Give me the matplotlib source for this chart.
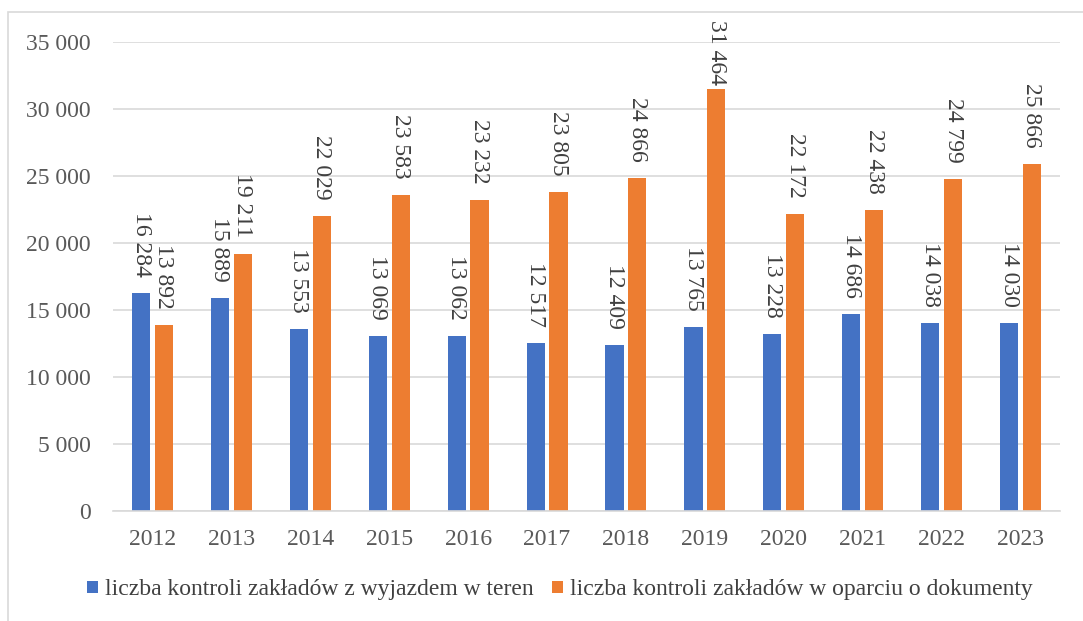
import numpy as np
import matplotlib.pyplot as plt
from matplotlib.patches import Rectangle

lata = ['2012', '2013', '2014', '2015', '2016', '2017', '2018', '2019', '2020', '2021', '2022', '2023']
w_teren = [16284, 15889, 13553, 13069, 13062, 12517, 12409, 13765, 13228, 14686, 14038, 14030]
dokumenty = [13892, 19211, 22029, 23583, 23232, 23805, 24866, 31464, 22172, 22438, 24799, 25866]
etykiety = ['liczba kontroli zakładów z wyjazdem w teren',
            'liczba kontroli zakładów w oparciu o dokumenty']

plt.rcParams['font.family'] = ['Liberation Serif', 'DejaVu Serif']

W, H = 1083, 621
fig = plt.figure(figsize=(W / 100, H / 100), dpi=100)
# ramka wykresu
fig.patches.append(Rectangle((8 / W, -0.1), 1.1, 1 - 12 / H + 0.1, transform=fig.transFigure,
                             fill=False, edgecolor='#d9d9d9', linewidth=1.2))
ax = fig.add_axes([113 / W, 1 - 511 / H, 947 / W, 469 / H])

x = np.arange(len(lata))
szer = 0.23
b1 = ax.bar(x - 0.145, w_teren, szer, color='#4472c4', label=etykiety[0])
b2 = ax.bar(x + 0.145, dokumenty, szer, color='#ed7d31', label=etykiety[1])

ax.set_xlim(-0.5, len(lata) - 0.5)
ax.set_ylim(0, 35000)


def fmt(v):
    return f'{v:,}'.replace(',', ' ')


# etykiety zaczynają się ok. 81 px nad słupkiem (jak w Excelu), ale nie wychodzą poza ramkę
for bars in (b1, b2):
    for b in bars:
        h = b.get_height()
        top_px = ax.transData.transform((0, h))[1]  # od dołu figury
        off_px = min(81, (H - 20) - top_px)
        ax.annotate(fmt(int(h)), (b.get_x() + b.get_width() / 2, h),
                    xytext=(0, off_px * 0.72), textcoords='offset points', rotation=-90,
                    ha='center', va='top', fontsize=17, color='#404040',
                    annotation_clip=False)

ax.set_yticks(range(0, 35001, 5000))
ax.set_yticklabels([fmt(v) for v in range(0, 35001, 5000)])
ax.set_xticks(x)
ax.set_xticklabels(lata)
ax.tick_params(axis='both', length=0, labelsize=17, colors='#595959')
ax.tick_params(axis='x', pad=13)
ax.tick_params(axis='y', pad=16)
ax.grid(axis='y', color='#d9d9d9', linewidth=1.2)
ax.set_axisbelow(True)
for s in ['top', 'right', 'left']:
    ax.spines[s].set_visible(False)
ax.spines['bottom'].set_color('#d9d9d9')
ax.spines['bottom'].set_linewidth(1.2)

fig.legend(loc='center', bbox_to_anchor=(0.517, 1 - 590 / H), ncol=2, frameon=False,
           fontsize=17, handlelength=0.45, handleheight=0.45, handletextpad=0.3,
           columnspacing=0.8, labelcolor='#404040')

fig.savefig('out.png', dpi=100)
